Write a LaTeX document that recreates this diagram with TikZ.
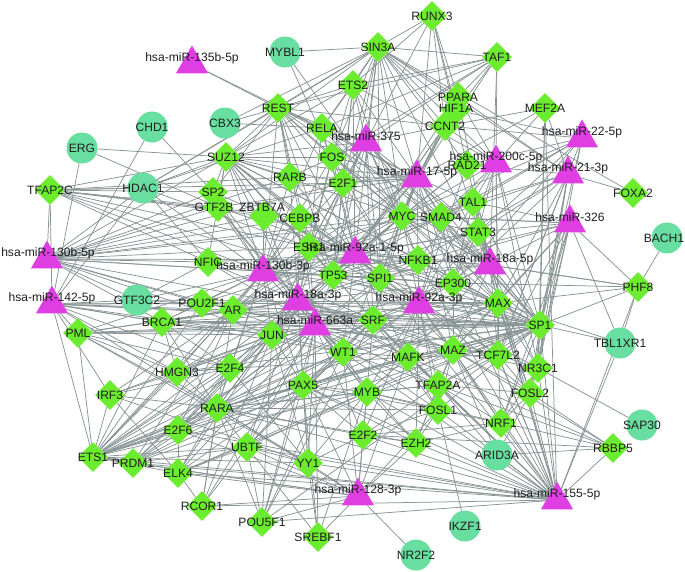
\documentclass[tikz,border=0pt]{standalone}
\usepackage{fontspec}
\setmainfont{Liberation Sans}
\usetikzlibrary{shapes.geometric}
\pgfdeclarelayer{bg}
\pgfsetlayers{bg,main}
\definecolor{tfgreen}{RGB}{108,236,46}
\definecolor{tgmint}{RGB}{104,222,160}
\definecolor{mirmag}{RGB}{222,62,226}
\definecolor{edgegray}{RGB}{136,148,148}
\definecolor{labeltxt}{RGB}{30,30,30}
\tikzset{
 tfnode/.style={diamond, aspect=1, fill=tfgreen, minimum width=30pt, minimum height=30pt, inner sep=0pt},
 tgnode/.style={circle, fill=tgmint, minimum size=31pt, inner sep=0pt},
 mirnode/.style={regular polygon, regular polygon sides=3, fill=mirmag, minimum size=37pt, inner sep=0pt},
 lbl/.style={font=\fontsize{12.1}{13}\selectfont, text=labeltxt, inner sep=0pt},
 edge/.style={draw=edgegray, line width=0.75pt},
}
\begin{document}
\begin{tikzpicture}[x=1pt,y=-1pt]
\useasboundingbox (0,0) rectangle (685,571);
% transcription factors (diamonds)
\foreach \n/\x/\y/\t in {
REST/278/108/REST, SUZ12/226/157/SUZ12, RELA/322/128/RELA, FOS/332/157/FOS, RARB/290/177/RARB,
TFAP2C/50/190/TFAP2C, SP2/213/192/SP2, ETS2/353/85/ETS2, E2F1/343/183/E2F1, RUNX3/432/16/RUNX3,
SIN3A/378/47/SIN3A, TAF1/497/57/TAF1, HIF1A/456/110/HIF1A, PPARA/458/97/PPARA, CCNT2/445/126/CCNT2,
MEF2A/545/108/MEF2A, RAD21/467/165/RAD21, FOXA2/633/193/FOXA2, TAL1/473/202/TAL1, MYC/402/216/MYC,
SMAD4/441/217/SMAD4, STAT3/478/232/STAT3, NFKB1/418/260/NFKB1, SPI1/380/278/SPI1, EP300/453/283/EP300,
MAX/498/303/MAX, PHF8/638/287/PHF8, SRF/373/320/SRF, SP1/540/325/SP1, MAFK/408/357/MAFK,
MAZ/453/350/MAZ, TCF7L2/498/355/TCF7L2, NR3C1/538/368/NR3C1, WT1/343/352/WT1, TFAP2A/438/385/TFAP2A,
MYB/367/392/MYB, FOSL1/438/410/FOSL1, FOSL2/530/393/FOSL2, NRF1/501/423/NRF1, E2F2/363/435/E2F2,
EZH2/416/443/EZH2, RBBP5/613/448/RBBP5, IRF3/110/395/IRF3, PAX5/303/385/PAX5, RARA/217/408/RARA,
E2F6/178/430/E2F6, UBTF/247/447/UBTF, YY1/308/463/YY1, ETS1/93/457/ETS1, PRDM1/133/463/PRDM1,
ELK4/178/473/ELK4, RCOR1/202/506/RCOR1, POU5F1/262/522/POU5F1, SREBF1/318/537/SREBF1,
GTF2B/218/207/GTF2B, ZBTB7A/264/216/ZBTB7A, CEBPB/300/218/CEBPB, ESR1/309/247/ESR1, NFIC/208/262/NFIC,
TP53/333/275/TP53, POU2F1/202/303/POU2F1, AR/233/310/AR, BRCA1/162/322/BRCA1, PML/78/333/PML,
JUN/272/335/JUN, HMGN3/177/372/HMGN3, E2F4/230/368/E2F4}
{\node[tfnode] (\n) at (\x,\y) {};}
% target genes (circles)
\foreach \n/\x/\y/\t in {
MYBL1/285/52/MYBL1, CHD1/152/127/CHD1, CBX3/225/123/CBX3, ERG/82/148/ERG, HDAC1/143/188/HDAC1,
GTF3C2/137/300/GTF3C2, BACH1/667/238/BACH1, TBL1XR1/620/343/TBL1XR1, SAP30/642/425/SAP30,
ARID3A/497/455/ARID3A, IKZF1/465/526/IKZF1, NR2F2/416/555/NR2F2}
{\node[tgnode] (\n) at (\x,\y) {};}
% miRNAs (triangles)
\foreach \n/\x/\y/\t in {
mA/192/58/hsa-miR-135b-5p, mB/366/136/hsa-miR-375, mC/417/172/hsa-miR-17-5p, mD/496/157/hsa-miR-200c-5p,
mE/582/132/hsa-miR-22-5p, mF/568/168/hsa-miR-21-3p, mG/570/217/hsa-miR-326, mH/47/253/hsa-miR-130b-5p,
mI/52/298/hsa-miR-142-5p, mJ/263/266/hsa-miR-130b-3p, mK/355/248/hsa-miR-92a-1-5p, mL/490/259/hsa-miR-18a-5p,
mM/298/295/hsa-miR-18a-3p, mN/419/298/hsa-miR-92a-3p, mO/315/320/hsa-miR-663a, mP/358/490/hsa-miR-128-3p,
mQ/557/494/hsa-miR-155-5p}
{\node[mirnode] (\n) at (\x,{\y+6}) {};}
% edges
\begin{pgfonlayer}{bg}
\foreach \a/\bs in {
mA/{REST,RELA},
mB/{ETS2,SIN3A,RUNX3,FOS,E2F1,RELA,MYC,SMAD4,TP53,SPI1,ESR1,CEBPB,RARB,SUZ12,REST,CCNT2,TAF1,NFKB1,STAT3,SP1,JUN,SRF,MAX},
mC/{SIN3A,RUNX3,ETS2,CCNT2,PPARA,HIF1A,TAF1,RAD21,TAL1,MYC,SMAD4,STAT3,NFKB1,SPI1,EP300,TP53,ESR1,E2F1,FOS,RELA,REST,SUZ12,RARB,CEBPB,GTF2B,SP2,MAX,SP1,SRF,JUN,AR,MAZ,WT1,MEF2A},
mD/{MEF2A,CCNT2,RAD21,TAL1,STAT3,SP1,MAX,NFKB1,EP300,PPARA,SIN3A,TAF1,MYC,SMAD4,TCF7L2,NR3C1,E2F1,ETS2},
mE/{CCNT2,RAD21,MYC,TAL1,SMAD4,SP1,TCF7L2,NR3C1,STAT3,HIF1A,EP300},
mF/{FOXA2,TAL1,STAT3,SP1,MAX,NR3C1,MEF2A,PPARA,RAD21,SMAD4,NFKB1,EP300,TCF7L2,FOSL2,SIN3A},
mG/{PHF8,TBL1XR1,SP1,MAX,EP300,STAT3,NFKB1,TCF7L2,NR3C1,FOSL2,NRF1,SPI1,MAZ,SMAD4,MYC,TAL1},
mH/{TFAP2C,HDAC1,SP2,GTF2B,NFIC,POU2F1,AR,ESR1,CEBPB,TP53,SPI1,MYC,SUZ12,JUN,BRCA1,GTF3C2,E2F1,SMAD4,NFKB1,SRF,ZBTB7A,RARB},
mI/{PML,GTF3C2,BRCA1,POU2F1,AR,JUN,ETS1,CHD1,HDAC1,ERG,SRF,SP1,MAX,HMGN3,WT1,E2F4,TFAP2C,IRF3,RARA},
mJ/{GTF2B,ZBTB7A,CEBPB,ESR1,NFIC,TP53,POU2F1,AR,BRCA1,JUN,E2F4,HMGN3,SP2,SUZ12,RARB,FOS,E2F1,RELA,REST,MYC,SMAD4,SPI1,SRF,WT1,MAFK,PAX5,RARA,MAX,SP1,EP300,NFKB1,TAL1,STAT3,ETS1,PML,HDAC1,TFAP2C,GTF3C2},
mK/{ESR1,TP53,SPI1,NFKB1,MYC,SMAD4,STAT3,TAL1,RAD21,CCNT2,ETS2,SIN3A,E2F1,FOS,RELA,RARB,CEBPB,ZBTB7A,GTF2B,SP2,SUZ12,REST,SRF,WT1,MAZ,MAFK,MAX,SP1,EP300,AR,JUN,POU2F1,NFIC,TCF7L2,HIF1A,PPARA},
mL/{STAT3,TAL1,SMAD4,MYC,NFKB1,EP300,MAX,SP1,TCF7L2,NR3C1,MAZ,SPI1,SRF,RAD21,CCNT2,PPARA,SIN3A,TAF1,E2F1,FOS,ESR1,TP53,FOSL2,MAFK,PHF8,RELA},
mM/{ESR1,TP53,CEBPB,ZBTB7A,GTF2B,NFIC,POU2F1,AR,JUN,BRCA1,SPI1,SRF,WT1,MAFK,MAZ,MYB,PAX5,E2F4,RARA,HMGN3,UBTF,YY1,MYC,NFKB1,EP300,MAX,SP1,TCF7L2,E2F1,FOS,RARB,SUZ12,SP2,E2F6,ETS1,PML},
mN/{SPI1,NFKB1,EP300,MAX,SP1,SRF,MAFK,MAZ,TCF7L2,NR3C1,WT1,TFAP2A,MYB,FOSL1,FOSL2,NRF1,E2F2,EZH2,TP53,ESR1,MYC,SMAD4,STAT3,TAL1,JUN,AR,PAX5,CEBPB,E2F1,FOS,RAD21},
mO/{JUN,AR,POU2F1,BRCA1,WT1,SRF,MAFK,MAZ,MYB,PAX5,E2F4,HMGN3,RARA,E2F6,UBTF,YY1,E2F2,EZH2,TFAP2A,FOSL1,SPI1,TP53,ESR1,NFKB1,EP300,MAX,SP1,TCF7L2,NR3C1,ELK4,PRDM1,ETS1,IRF3,PML,POU5F1,SREBF1,RCOR1,NFIC,GTF2B,CEBPB},
mP/{SREBF1,NR2F2,YY1,POU5F1,E2F2,EZH2,RCOR1,ELK4,PAX5,MYB,UBTF,ETS1,PRDM1,RARA,E2F6,FOSL1,WT1,MAFK},
mQ/{ARID3A,NRF1,FOSL2,FOSL1,TFAP2A,MAZ,TCF7L2,NR3C1,SP1,MAX,EP300,RBBP5,TBL1XR1,EZH2,E2F2,MYB,MAFK,WT1,SRF,YY1,ETS1,RCOR1,POU5F1,ELK4,PRDM1,UBTF,NFKB1,STAT3,SPI1,SMAD4,E2F6,RARA,PAX5,MEF2A,TAL1,PHF8},
MYBL1/{E2F1,MYC,SIN3A},
CHD1/{SP2},
CBX3/{REST,RELA,SIN3A},
ERG/{GTF2B,SUZ12},
HDAC1/{SUZ12,REST,SIN3A,RELA,TFAP2C,NFIC,ESR1},
GTF3C2/{NFIC,SP1,MAX},
BACH1/{PHF8},
TBL1XR1/{PHF8,SP1,MAX},
SAP30/{NR3C1},
ARID3A/{FOSL2,TFAP2A,MAZ,RBBP5},
IKZF1/{FOSL1},
RBBP5/{FOSL2,TFAP2A,MAZ,E2F2,MAFK,MYB},
PHF8/{SP1,MAX,EP300,mL},
FOXA2/{SIN3A},
MEF2A/{CCNT2,NR3C1,SP1},
TAF1/{SIN3A,ETS2,CCNT2,RELA,PPARA,FOS,REST},
RUNX3/{SIN3A,ETS2,PPARA,CCNT2,HIF1A,RAD21},
SIN3A/{ETS2,REST,RELA,FOS,E2F1,SUZ12,MYC,CCNT2,PPARA,HIF1A,RAD21,SPI1,TP53},
ETS2/{REST,RELA,FOS,E2F1,SUZ12,MYC,TP53},
REST/{SUZ12,RELA,FOS,RARB,E2F1,SP2,MYC,CCNT2,SMAD4,ESR1,TP53,CEBPB},
SUZ12/{SP2,RARB,E2F1,FOS,MYC,ESR1,GTF2B,TP53,CEBPB,NFIC,ZBTB7A,SPI1,SRF,MAX,SP1},
TFAP2C/{SUZ12,SP2,GTF2B,ZBTB7A,CEBPB,ESR1,RARB,E2F1,NFIC,TP53},
ETS1/{IRF3,PML,RARA,E2F6,ELK4,PRDM1,UBTF,YY1,E2F4,HMGN3,JUN,AR,WT1,SRF,MYB,MAFK,PAX5,BRCA1,POU2F1,MAX,SP1},
IRF3/{ELK4,RARA,E2F4,JUN,AR,YY1},
PML/{HMGN3,YY1,RARA,E2F4,JUN,AR,SRF,SP1},
PRDM1/{RARA,E2F4,UBTF,JUN,AR,WT1,SP1,MAX},
ELK4/{RARA,E2F6,UBTF,RCOR1,JUN,PAX5,SP1,MYB},
RCOR1/{RARA,UBTF,JUN,AR},
POU5F1/{UBTF,RARA,PAX5,JUN,WT1,SP1,SRF},
SREBF1/{YY1,PAX5,MYB,UBTF},
UBTF/{RARA,PAX5,MYB,WT1,SRF,YY1},
E2F6/{RARA,E2F4,JUN,AR},
YY1/{PAX5,RARA,MYB,E2F2,E2F4,JUN},
HMGN3/{RARA,E2F4,JUN,BRCA1,MAFK,SP1},
BRCA1/{POU2F1,AR,JUN,RARA,E2F4,SRF,SP1,MAX},
RARA/{PAX5,E2F4,JUN,WT1,MYB,SRF,MAFK,MAZ,TFAP2A,SP1,E2F2,EZH2,FOSL1},
PAX5/{MYB,WT1,E2F2,EZH2,FOSL1,JUN,SRF,SP1},
E2F2/{MYB,EZH2,FOSL1,TFAP2A,NRF1},
EZH2/{FOSL1,TFAP2A,MAZ,NRF1,MYB},
NRF1/{FOSL1,FOSL2,TFAP2A,MAZ,TCF7L2,SP1,NR3C1},
FOSL2/{NR3C1,TCF7L2,SP1,MAZ,TFAP2A,MAX},
FOSL1/{TFAP2A,MAZ,MAFK,MYB,SRF,SP1},
TFAP2A/{MAZ,MAFK,MYB,SRF,TCF7L2,SP1,WT1},
MYB/{MAFK,WT1,SRF,SP1,MAZ},
WT1/{SRF,MAFK,JUN,AR,SP1,MAX},
MAFK/{MAZ,SRF,SP1,TCF7L2},
MAZ/{TCF7L2,SP1,MAX,SRF,EP300},
TCF7L2/{SP1,NR3C1,MAX},
NR3C1/{SP1,MAX},
SP1/{MAX,EP300,NFKB1,STAT3,SPI1,SRF,TP53,JUN,AR,MYC,SMAD4,TAL1},
MYC/{SMAD4,STAT3,NFKB1,SPI1,EP300,TP53,ESR1,E2F1,FOS,RELA,TAL1,RAD21,CCNT2,MAX,SRF,JUN,AR},
TP53/{ESR1,SPI1,NFKB1,EP300,SRF,JUN,AR,E2F1,CEBPB,STAT3,SMAD4},
ESR1/{CEBPB,SPI1,NFKB1,JUN,AR,E2F1,FOS,RELA},
EP300/{NFKB1,STAT3,SMAD4,SPI1,TAL1,MAX}}{\foreach \b in \bs {\draw[edge] (\a) -- (\b);}}
\end{pgfonlayer}
% labels
\foreach \n/\x/\y/\t in {
REST/278/108/REST, SUZ12/226/157/SUZ12, RELA/322/128/RELA, FOS/332/157/FOS, RARB/290/177/RARB,
TFAP2C/50/190/TFAP2C, SP2/213/192/SP2, ETS2/353/85/ETS2, E2F1/343/183/E2F1, RUNX3/432/16/RUNX3,
SIN3A/378/47/SIN3A, TAF1/497/57/TAF1, HIF1A/456/108/HIF1A, PPARA/458/97/PPARA, CCNT2/445/126/CCNT2,
MEF2A/545/108/MEF2A, RAD21/467/165/RAD21, FOXA2/633/193/FOXA2, TAL1/473/202/TAL1, MYC/402/216/MYC,
SMAD4/441/217/SMAD4, STAT3/478/232/STAT3, NFKB1/418/260/NFKB1, SPI1/380/278/SPI1, EP300/453/283/EP300,
MAX/498/303/MAX, PHF8/638/287/PHF8, SRF/373/320/SRF, SP1/540/325/SP1, MAFK/408/357/MAFK,
MAZ/453/350/MAZ, TCF7L2/498/355/TCF7L2, NR3C1/538/368/NR3C1, WT1/343/352/WT1, TFAP2A/438/385/TFAP2A,
MYB/367/392/MYB, FOSL1/438/410/FOSL1, FOSL2/530/393/FOSL2, NRF1/501/423/NRF1, E2F2/363/435/E2F2,
EZH2/416/443/EZH2, RBBP5/613/448/RBBP5, IRF3/110/395/IRF3, PAX5/303/385/PAX5, RARA/217/408/RARA,
E2F6/178/430/E2F6, UBTF/247/447/UBTF, YY1/308/463/YY1, ETS1/93/457/ETS1, PRDM1/133/463/PRDM1,
ELK4/178/473/ELK4, RCOR1/202/506/RCOR1, POU5F1/262/522/POU5F1, SREBF1/318/537/SREBF1,
GTF2B/214/207/GTF2B, ZBTB7A/262/207/ZBTB7A, CEBPB/300/218/CEBPB, ESR1/309/247/ESR1, NFIC/208/262/NFIC,
TP53/333/275/TP53, POU2F1/202/303/POU2F1, AR/233/310/AR, BRCA1/162/322/BRCA1, PML/78/333/PML,
JUN/272/335/JUN, HMGN3/177/372/HMGN3, E2F4/230/368/E2F4,
MYBL1/285/52/MYBL1, CHD1/152/127/CHD1, CBX3/225/123/CBX3, ERG/82/148/ERG, HDAC1/143/188/HDAC1,
GTF3C2/137/300/GTF3C2, BACH1/664/238/BACH1, TBL1XR1/620/343/TBL1XR1, SAP30/642/425/SAP30,
ARID3A/497/455/ARID3A, IKZF1/465/526/IKZF1, NR2F2/416/555/NR2F2,
mA/192/58/hsa-miR-135b-5p, mB/366/136/hsa-miR-375, mC/417/172/hsa-miR-17-5p, mD/496/157/hsa-miR-200c-5p,
mE/582/132/hsa-miR-22-5p, mF/568/168/hsa-miR-21-3p, mG/570/217/hsa-miR-326, mH/48/253/hsa-miR-130b-5p,
mI/52/298/hsa-miR-142-5p, mJ/263/266/hsa-miR-130b-3p, mK/355/248/hsa-miR-92a-1-5p, mL/490/259/hsa-miR-18a-5p,
mM/298/295/hsa-miR-18a-3p, mN/419/298/hsa-miR-92a-3p, mO/315/320/hsa-miR-663a, mP/358/490/hsa-miR-128-3p,
mQ/557/494/hsa-miR-155-5p}
{\node[lbl] (\n-l) at (\x,\y) {\t};}
\end{tikzpicture}
\end{document}
